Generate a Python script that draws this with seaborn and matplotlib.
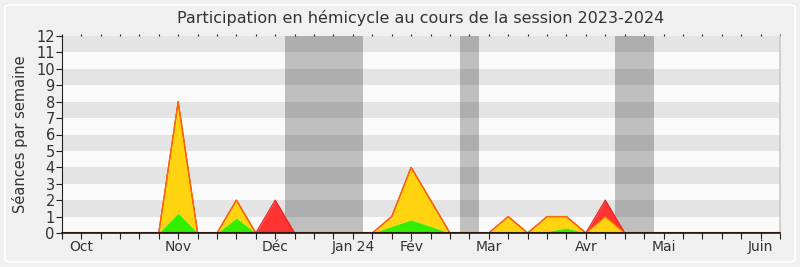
import numpy as np
import pandas as pd
import seaborn as sns
import matplotlib
matplotlib.use("Agg")
import matplotlib.pyplot as plt
from matplotlib.patches import FancyBboxPatch

# ---- data (weekly index 0..37) ----
weeks = list(range(38))
green_vals = {6: 1.2, 9: 0.9, 17: 0.4, 18: 0.8, 19: 0.4, 23: 0.1, 25: 0.1, 26: 0.3, 28: 0.1}
yellow_top_vals = {6: 8, 9: 2, 17: 1, 18: 4, 19: 2, 23: 1, 25: 1, 26: 1, 28: 1}
red_top_vals = {11: 2, 28: 2}

green = [green_vals.get(w, 0) for w in weeks]
yellow_top = [yellow_top_vals.get(w, 0) for w in weeks]
red_top = [max(red_top_vals.get(w, 0), yellow_top[i]) for i, w in enumerate(weeks)]

month_pos = [1, 6, 11, 15, 18, 22, 27, 31, 36]
month_labels = ["Oct", "Nov", "Déc", "Jan 24", "Fév", "Mar", "Avr", "Mai", "Juin"]
vacations = [(11.5, 15.5), (20.5, 21.5), (28.5, 30.5)]

df = pd.DataFrame({"week": weeks, "green": green, "yellow": yellow_top, "red": red_top})

sns.set_theme(style="white")
plt.rcParams["font.family"] = ["DejaVu Sans"]

fig = plt.figure(figsize=(8, 2.67), dpi=100, facecolor="#f0f0f0")
ax = fig.add_axes([61.7 / 800, 34 / 267, (780 - 61.7) / 800, (233 - 36) / 267])
ax.set_facecolor("#fafafa")

ax.set_xlim(0, 37)
ax.set_ylim(0, 12)

for a, b in vacations:
    ax.axvspan(a, b, color="#bfbfbf", zorder=0.5, lw=0)
for k in range(1, 12, 2):
    ax.axhspan(k, k + 1, color="black", alpha=0.085, zorder=0.6, lw=0)

ax.fill_between(df["week"], df["yellow"], df["red"], color="#ff3333", lw=0, zorder=2)
ax.fill_between(df["week"], df["green"], df["yellow"], color="#ffd30f", lw=0, zorder=2)
ax.fill_between(df["week"], 0, df["green"], color="#33ee00", lw=0, zorder=2)
sns.lineplot(data=df, x="week", y="red", color="#ee2222", lw=0.9, ax=ax, zorder=3)
sns.lineplot(data=df, x="week", y="yellow", color="#ff6a00", lw=0.9, ax=ax, zorder=3)
ax.axhline(0, color="#2a1a14", lw=1.5, zorder=4)

ax.set_xticks(weeks)
ax.set_xticklabels([month_labels[month_pos.index(w)] if w in month_pos else "" for w in weeks])
ax.set_yticks(range(13))
ax.set_yticklabels([str(v) for v in range(13)])
ax.tick_params(axis="x", which="both", bottom=True, top=True, length=4, width=0.8,
               color="#222222", labelsize=10, labelcolor="#333333", pad=1)
ax.tick_params(axis="y", left=True, length=4, width=0.8, color="#222222",
               labelsize=10.5, labelcolor="#333333", pad=1)
for t in ax.xaxis.get_major_ticks():
    t.tick2line.set_markersize(1.5)

ax.set_xlabel("")
ax.set_ylabel("Séances par semaine", fontsize=10.5, color="#333333", labelpad=6)
ax.set_title("Participation en hémicycle au cours de la session 2023-2024",
             fontsize=11.5, color="#333333", pad=9)

ax.spines["top"].set_visible(False)
ax.spines["right"].set_color("#cccccc")
ax.spines["left"].set_color("#222222")
ax.spines["left"].set_linewidth(0.8)
ax.spines["bottom"].set_color("#2a1a14")

box = FancyBboxPatch((5 / 800, 5 / 267), 790 / 800, 257 / 267,
                     boxstyle="round,pad=0,rounding_size=0.01",
                     transform=fig.transFigure, facecolor="none",
                     edgecolor="#ffffff", lw=1.2, zorder=-1)
fig.patches.append(box)

fig.savefig("out.png", dpi=100, facecolor=fig.get_facecolor())
